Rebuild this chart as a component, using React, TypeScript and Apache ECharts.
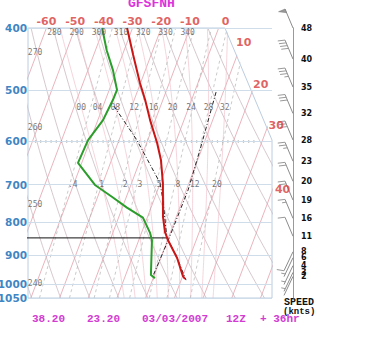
import React, { useEffect, useRef } from 'react';
import * as echarts from 'echarts';

// ---- frame / scale constants ----
const SKEW = 36.7; // deg C per ln(p) unit
const P_BOTTOM = 1050;
const P_TOP = 400;
const X_MIN = -31;
const X_MAX = 54;
const CORNER_X = 37.6; // top-right corner of the diagram (skewed deg)
const CORNER_P = 597; // where diagonal edge meets right side

// ---- grid values ----
const pressureLevels = [400, 500, 600, 700, 800, 900, 1000, 1050];
const isothermTemps = [-60, -50, -40, -30, -20, -10, 0, 10, 20, 30, 40, 50];
const topIsothermLabels = [-60, -50, -40, -30, -20, -10, 0];
const topIsothermDx = [0, 0, 0, 0, 0, 0, 7];
const sideIsothermLabels = [10, 20, 30, 40];
const sideIsothermLabelP = [422, 490, 566, 713];
const sideIsothermDx = [2, 6, 8, 10];
const dryThetas = [240, 250, 260, 270, 280, 290, 300, 310, 320, 330, 340, 350];
const dryTopLabels = [280, 290, 300, 310, 320, 330, 340];
const dryLeftLabels = [270, 260, 250, 240];
const dryLeftLabelP = [436, 571, 753, 996];
const moistThetaW = [0, 4, 8, 12, 16, 20, 24, 28, 32];
const mixingRatios = [0.4, 1, 2, 3, 5, 8, 12, 20];
const mixingLabels = ['.4', '1', '2', '3', '5', '8', '12', '20'];

// ---- sounding ----
const tempP = [400, 440, 487, 517, 556, 603, 641, 696, 786, 830, 854, 910, 971, 981];
const tempT = [-31.9, -26.3, -20.2, -16.2, -11.8, -6.4, -2.8, 0.9, 5.4, 8.1, 10.2, 15.7, 20.1, 21.2];
const dewP = [400, 433, 465, 499, 517, 556, 597, 648, 701, 733, 760, 788, 831, 854, 967, 978];
const dewT = [-40.6, -36.1, -31.3, -27.3, -27.4, -28.2, -30.8, -31.3, -22.5, -14.6, -8.4, -1.5, 2.9, 4.6, 8.8, 10.6];
const parcelP = [529, 597, 696, 739, 845, 910, 985];
const parcelT = [-26.2, -13.8, -0.1, 3.1, 9.4, 15.7, 21.7];
const guideP = [503, 619, 714, 848, 978];
const guideT = [7.5, 9.5, 10.6, 10.3, 9.6];
const lclP = 847;
const lclT = [-42.4, 9.7];
const tickRowP = 600;
const tickRowX = [-28.6, 48.8];

// ---- winds ----
const windP = [400, 447, 494, 543, 597, 644, 692, 740, 790, 842, 890, 909, 935, 958, 972];
const windSpeed = [48, 40, 35, 32, 28, 23, 20, 19, 16, 11, 8, 6, 4, 3, 2];

const titleText = 'GFSFNH';
const bottomTexts = ['38.20', '23.20', '03/03/2007', '12Z', '+ 36hr'];
const bottomTextX = [32, 87, 142, 226, 260];

// ---- physics helpers for the diagram grid ----
const lnB = (p: number) => Math.log(P_BOTTOM / p);
const skewX = (T: number, p: number) => T + SKEW * lnB(p);

function dryLine(theta: number): number[][] {
  const pts: number[][] = [];
  for (let p = 1050; p >= 400; p -= 10) {
    const T = theta * Math.pow(p / 1000, 0.2857) - 273.15;
    pts.push([skewX(T, p), p]);
  }
  return pts;
}

function mixT(w: number, p: number) {
  const e = (w * p) / (622 + w);
  const l = Math.log(e / 6.112);
  return (243.5 * l) / (17.67 - l);
}

function mixLine(w: number): number[][] {
  const pts: number[][] = [];
  for (let p = 1050; p >= 400; p -= 25) pts.push([skewX(mixT(w, p), p), p]);
  return pts;
}

function moistDT(Tk: number, p: number) {
  const Tc = Tk - 273.15;
  const es = 6.112 * Math.exp((17.67 * Tc) / (Tc + 243.5));
  const rs = (0.622 * es) / (p - es);
  const L = 2.501e6;
  const num = 287.04 * Tk + L * rs;
  const den = 1005.7 + (L * L * rs * 0.622) / (287.04 * Tk * Tk);
  return num / den / p;
}

function moistLine(thw: number): number[][] {
  const up: number[][] = [];
  let t = thw + 273.15;
  let p = 1000;
  up.push([t, p]);
  while (p > 400) {
    const dp = -5;
    const k1 = moistDT(t, p);
    const k2 = moistDT(t + k1 * dp, p + dp);
    t += 0.5 * (k1 + k2) * dp;
    p += dp;
    up.push([t, p]);
  }
  const down: number[][] = [];
  t = thw + 273.15;
  p = 1000;
  while (p < 1050) {
    const dp = 5;
    const k1 = moistDT(t, p);
    const k2 = moistDT(t + k1 * dp, p + dp);
    t += 0.5 * (k1 + k2) * dp;
    p += dp;
    down.push([t, p]);
  }
  const all = [...down.reverse(), ...up];
  return all.map(([tk, pp]) => [skewX(tk - 273.15, pp), pp]);
}

function xAtP(line: number[][], p: number) {
  let best = line[0];
  for (const pt of line) if (Math.abs(pt[1] - p) < Math.abs(best[1] - p)) best = pt;
  return best[0];
}

const bgLine = (data: number[][], color: string, width: number, type: any) => ({
  type: 'line',
  data,
  xAxisIndex: 0,
  yAxisIndex: 0,
  showSymbol: false,
  symbol: 'none',
  silent: true,
  z: 1,
  lineStyle: { color, width, type },
});

const labelSeries = (items: any[], style: any) => ({
  type: 'scatter',
  xAxisIndex: 0,
  yAxisIndex: 0,
  symbolSize: 1,
  itemStyle: { color: 'transparent' },
  silent: true,
  clip: false,
  z: 8,
  data: items.map((it) => ({
    value: it.value,
    name: it.name,
    label: it.offset ? { offset: it.offset } : undefined,
  })),
  label: { show: true, position: 'inside', formatter: '{b}', ...style },
});

function buildOption(): any {
  const series: any[] = [];

  // isobars (markLine) + labels
  series.push({
    type: 'line',
    xAxisIndex: 0,
    yAxisIndex: 0,
    data: [],
    silent: true,
    z: 1,
    markLine: {
      silent: true,
      symbol: ['none', 'none'],
      animation: false,
      lineStyle: { color: '#cfdcea', width: 1, type: 'solid' },
      label: {
        position: 'start',
        formatter: '{b}',
        distance: 1,
        color: '#3f86c4',
        fontWeight: 'bold',
        fontSize: 10.5,
        fontFamily: 'DejaVu Sans',
      },
      data: pressureLevels.map((p) => ({ yAxis: p, name: String(p) })),
    },
  });

  isothermTemps.forEach((T) => {
    series.push(bgLine([[skewX(T, P_BOTTOM), P_BOTTOM], [skewX(T, P_TOP), P_TOP]], '#e8acb5', 0.9, 'solid'));
  });
  dryThetas.forEach((th) => series.push(bgLine(dryLine(th), '#c4b0b9', 0.7, 'solid')));
  const moistLines = moistThetaW.map((w) => moistLine(w));
  moistLines.forEach((l) => series.push(bgLine(l, '#f0c3cc', 0.7, 'solid')));
  mixingRatios.forEach((w) => series.push(bgLine(mixLine(w), '#b3b3b3', 0.7, [3, 3])));

  // 600 hPa tick row
  series.push({
    ...bgLine([[tickRowX[0], tickRowP], [tickRowX[1], tickRowP]], '#909090', 2, [1.2, 4]),
    z: 2,
  });

  // mask top-right outside the diagram
  series.push({
    type: 'custom',
    xAxisIndex: 0,
    yAxisIndex: 0,
    silent: true,
    clip: false,
    z: 3,
    data: [[0, 500]],
    renderItem: (_params: any, api: any) => {
      const a = api.coord([CORNER_X, P_TOP]);
      const b = api.coord([X_MAX, CORNER_P]);
      return {
        type: 'polygon',
        shape: { points: [[a[0], a[1] - 1.5], [b[0] + 1.5, b[1]], [b[0] + 1.5, a[1] - 1.5]] },
        style: { fill: '#ffffff' },
      };
    },
  });
  // border
  series.push({
    type: 'custom',
    xAxisIndex: 0,
    yAxisIndex: 0,
    silent: true,
    clip: false,
    z: 4,
    data: [[0, 500]],
    renderItem: (_params: any, api: any) => {
      const pts = [
        api.coord([X_MIN, P_TOP]),
        api.coord([CORNER_X, P_TOP]),
        api.coord([X_MAX, CORNER_P]),
        api.coord([X_MAX, P_BOTTOM]),
        api.coord([X_MIN, P_BOTTOM]),
        api.coord([X_MIN, P_TOP]),
      ];
      return { type: 'polyline', shape: { points: pts }, style: { stroke: '#bccde0', lineWidth: 1, fill: 'none' } };
    },
  });

  // parcel / guide lines
  series.push({
    type: 'line', xAxisIndex: 0, yAxisIndex: 0, showSymbol: false, symbol: 'none', silent: true, z: 5,
    data: parcelP.map((p, i) => [skewX(parcelT[i], p), p]),
    lineStyle: { color: '#222', width: 1, type: [4, 2, 1, 2] },
  });
  series.push({
    type: 'line', xAxisIndex: 0, yAxisIndex: 0, showSymbol: false, symbol: 'none', silent: true, z: 5,
    data: guideP.map((p, i) => [skewX(guideT[i], p), p]),
    lineStyle: { color: '#222', width: 1, type: [4, 2, 1, 2] },
  });
  series.push({
    type: 'line', xAxisIndex: 0, yAxisIndex: 0, showSymbol: false, symbol: 'none', silent: true, z: 5, clip: false,
    data: lclT.map((T) => [skewX(T, lclP), lclP]),
    lineStyle: { color: '#111', width: 1 },
  });

  // sounding
  series.push({
    type: 'line', xAxisIndex: 0, yAxisIndex: 0, showSymbol: false, symbol: 'none', silent: true, z: 6,
    data: dewP.map((p, i) => [skewX(dewT[i], p), p]),
    lineStyle: { color: '#2a9d2a', width: 2 },
  });
  series.push({
    type: 'line', xAxisIndex: 0, yAxisIndex: 0, showSymbol: false, symbol: 'none', silent: true, z: 6,
    data: tempP.map((p, i) => [skewX(tempT[i], p), p]),
    lineStyle: { color: '#cc1515', width: 2 },
  });

  // labels
  const redStyle = { color: '#d83a3a', fontWeight: 'bold', fontSize: 11, fontFamily: 'DejaVu Sans' };
  series.push(
    labelSeries(
      topIsothermLabels.map((T, i) => ({ value: [skewX(T, P_TOP), P_TOP], name: String(T), offset: [topIsothermDx[i], -7] })),
      redStyle
    )
  );
  series.push(
    labelSeries(
      sideIsothermLabels.map((T, i) => ({
        value: [skewX(T, sideIsothermLabelP[i]), sideIsothermLabelP[i]],
        name: String(T),
        offset: [sideIsothermDx[i], 0],
      })),
      redStyle
    )
  );
  const grayStyle = { color: '#555', fontSize: 8, fontFamily: 'DejaVu Sans Mono' };
  series.push(
    labelSeries(
      dryTopLabels.map((th) => {
        const p = 407;
        const T = th * Math.pow(p / 1000, 0.2857) - 273.15;
        return { value: [skewX(T, p), p], name: String(th) };
      }),
      grayStyle
    )
  );
  series.push(
    labelSeries(
      dryLeftLabels.map((th, i) => ({ value: [X_MIN + 2.45, dryLeftLabelP[i]], name: String(th) })),
      grayStyle
    )
  );
  series.push(
    labelSeries(
      moistThetaW.map((w, i) => ({
        value: [xAtP(moistLines[i], 531), 531],
        name: (w < 10 ? '0' : '') + String(w),
      })),
      grayStyle
    )
  );
  series.push(
    labelSeries(
      mixingRatios.map((w, i) => ({ value: [skewX(mixT(w, 700), 700), 700], name: mixingLabels[i], offset: [3, 0] })),
      grayStyle
    )
  );

  // wind barbs
  series.push({
    type: 'custom',
    xAxisIndex: 1,
    yAxisIndex: 1,
    silent: true,
    clip: false,
    z: 6,
    data: windP.map((p, i) => [0, p, windSpeed[i]]),
    renderItem: (_params: any, api: any) => {
      const p = api.value(1);
      const spd = api.value(2);
      const base = api.coord([0, p]);
      const up = spd >= 10;
      const dx = up ? -8 : -9;
      const dy = up ? -19 : 19;
      const len = Math.hypot(dx, dy);
      const s = [dx / len, dy / len];
      const n = up ? [s[1], -s[0]] : [-s[1], s[0]];
      const tip = [base[0] + dx, base[1] + dy];
      const along = (d: number) => [tip[0] - s[0] * d, tip[1] - s[1] * d];
      const children: any[] = [
        { type: 'line', shape: { x1: base[0], y1: base[1], x2: tip[0], y2: tip[1] }, style: { stroke: '#8c8c8c', lineWidth: 1 } },
      ];
      const rounded = Math.round(spd / 5) * 5;
      const pennants = Math.floor(rounded / 50);
      const rem = rounded - pennants * 50;
      const full = Math.floor(rem / 10);
      const half = rem % 10 >= 5;
      let pos = pennants + full === 0 ? 3 : 0;
      for (let k = 0; k < pennants; k++) {
        const a = along(pos);
        const c = along(pos + 4);
        children.push({
          type: 'polygon',
          shape: { points: [a, [a[0] + n[0] * 7, a[1] + n[1] * 7], c] },
          style: { fill: '#9a9a9a', stroke: '#777', lineWidth: 0.5 },
        });
        pos += 5;
      }
      for (let k = 0; k < full; k++) {
        const a = along(pos);
        children.push({
          type: 'line',
          shape: { x1: a[0], y1: a[1], x2: a[0] + n[0] * 7 + s[0] * 2, y2: a[1] + n[1] * 7 + s[1] * 2 },
          style: { stroke: '#9a9a9a', lineWidth: 1 },
        });
        pos += 3;
      }
      if (half) {
        const a = along(pos);
        children.push({
          type: 'line',
          shape: { x1: a[0], y1: a[1], x2: a[0] + n[0] * 4 + s[0], y2: a[1] + n[1] * 4 + s[1] },
          style: { stroke: '#9a9a9a', lineWidth: 1 },
        });
      }
      children.push({
        type: 'text',
        style: {
          text: String(spd),
          x: base[0] + 8,
          y: base[1],
          align: 'left',
          verticalAlign: 'middle',
          fill: '#111',
          font: 'bold 8px "DejaVu Sans"',
        },
      });
      return { type: 'group', children };
    },
  });

  const graphic: any[] = [
    {
      type: 'text',
      left: 128,
      top: -3,
      style: { text: titleText, fill: '#dd33dd', font: 'bold 13px "Liberation Mono"' },
    },
    {
      type: 'text',
      left: 284,
      top: 297,
      style: { text: 'SPEED', fill: '#111', font: 'bold 10px "Liberation Mono"' },
    },
    {
      type: 'text',
      left: 283,
      top: 307,
      style: { text: '(knts)', fill: '#111', font: 'bold 9px "Liberation Mono"' },
    },
    ...bottomTexts.map((t, i) => ({
      type: 'text',
      left: bottomTextX[i],
      top: 313,
      style: { text: t, fill: '#d23cd2', font: 'bold 11px "Liberation Mono"' },
    })),
  ];

  return {
    animation: false,
    backgroundColor: '#ffffff',
    grid: [
      { left: 28, top: 28, width: 244, height: 270 },
      { left: 293, top: 28, width: 20, height: 270 },
    ],
    xAxis: [
      { type: 'value', gridIndex: 0, min: X_MIN, max: X_MAX, show: false },
      { type: 'value', gridIndex: 1, min: 0, max: 1, show: false },
    ],
    yAxis: [
      { type: 'log', logBase: 10, gridIndex: 0, min: P_TOP, max: P_BOTTOM, inverse: true, show: false },
      {
        type: 'log',
        logBase: 10,
        gridIndex: 1,
        min: P_TOP,
        max: P_BOTTOM,
        inverse: true,
        show: true,
        axisLine: { show: true, lineStyle: { color: '#9a9a9a', width: 1 } },
        axisTick: { show: false },
        axisLabel: { show: false },
        splitLine: { show: false },
      },
    ],
    series,
    graphic,
  };
}

export default function App() {
  const ref = useRef<HTMLDivElement>(null);
  useEffect(() => {
    const chart = echarts.init(ref.current as HTMLDivElement, null, { renderer: 'svg' });
    chart.setOption(buildOption());
    return () => chart.dispose();
  }, []);
  return (
    <div
      ref={ref}
      style={{ position: 'fixed', left: 0, top: 0, width: 372, height: 339, background: '#fff' }}
    />
  );
}
